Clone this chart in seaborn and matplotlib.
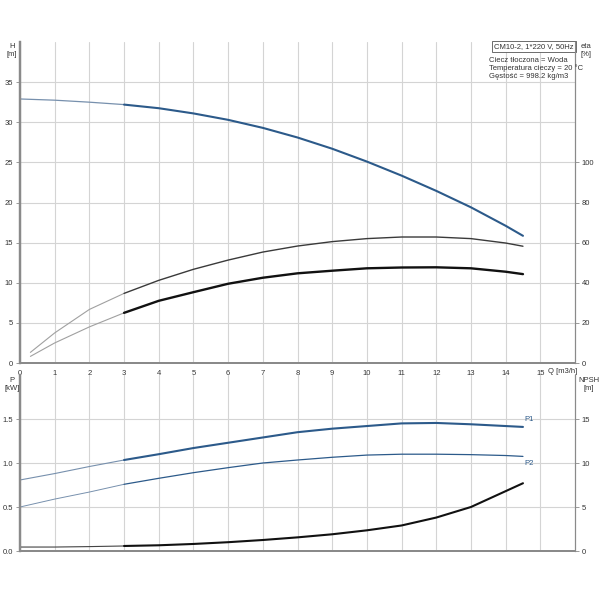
import numpy as np
import pandas as pd
import matplotlib
matplotlib.use("Agg")
import matplotlib.pyplot as plt
import seaborn as sns

# ---- data ----
q_h = [0, 1, 2, 3, 4, 5, 6, 7, 8, 9, 10, 11, 12, 13, 14, 14.5]
head = [32.9, 32.75, 32.5, 32.2, 31.75, 31.1, 30.3, 29.3, 28.1, 26.7, 25.1, 23.35, 21.45, 19.4, 17.1, 15.85]

q_eta = [0.3, 1, 2, 3, 4, 5, 6, 7, 8, 9, 10, 11, 12, 13, 14, 14.5]
eta_upper = [5.3, 15, 26.7, 34.7, 41.2, 46.7, 51.3, 55.3, 58.3, 60.5, 62.0, 62.8, 62.8, 62.0, 59.8, 58.2]
eta_lower = [3.3, 10, 18, 25, 31, 35.3, 39.5, 42.5, 44.7, 46.0, 47.2, 47.6, 47.7, 47.2, 45.5, 44.3]

q_p = [0, 1, 2, 3, 4, 5, 6, 7, 8, 9, 10, 11, 12, 13, 14, 14.5]
p1 = [0.807, 0.88, 0.96, 1.034, 1.10, 1.17, 1.23, 1.29, 1.35, 1.39, 1.42, 1.45, 1.455, 1.44, 1.42, 1.41]
p2 = [0.50, 0.59, 0.67, 0.758, 0.826, 0.89, 0.947, 1.0, 1.034, 1.065, 1.09, 1.10, 1.10, 1.095, 1.085, 1.075]
npsh = [0.45, 0.45, 0.5, 0.57, 0.65, 0.8, 1.0, 1.25, 1.55, 1.9, 2.35, 2.9, 3.8, 5.0, 6.8, 7.7]

q_ticks = list(range(0, 16))
h_ticks = [0, 5, 10, 15, 20, 25, 30, 35]
eta_ticks = [0, 20, 40, 60, 80, 100]
p_ticks = [0.0, 0.5, 1.0, 1.5]
p_tick_labels = ["0.0", "0.5", "1.0", "1.5"]
npsh_ticks = [0, 5, 10, 15]

title_box = "CM10-2, 1*220 V, 50Hz"
info_lines = ["Ciecz tłoczona = Woda", "Temperatura cieczy = 20 °C", "Gęstość = 998.2 kg/m3"]

# ---- style ----
sns.set_style("white")
plt.rcParams['font.family'] = ['Liberation Sans', 'DejaVu Sans']
FS = 5.5
TXT = "#333333"
GRID = "#d4d4d4"
SPINE = "#8a8a8a"
BLUE = "#2c5a8a"
BLUE_THIN = "#7790ad"

fig = plt.figure(figsize=(6, 6), dpi=100)
ax_top = fig.add_axes([20/600, 1-363/600, 555/600, 321/600])
ax_bot = fig.add_axes([20/600, 1-551/600, 555/600, 176/600])
ax_eta = ax_top.twinx()
ax_npsh = ax_bot.twinx()


def split_plot(ax, xs, ys, color, lw, thin_color, thin_lw, cut=3):
    df = pd.DataFrame({"Q": xs, "v": ys})
    thin = df[df.Q <= cut]
    thick = df[df.Q >= cut]
    sns.lineplot(data=thin, x="Q", y="v", ax=ax, color=thin_color, lw=thin_lw, sort=False, legend=False)
    sns.lineplot(data=thick, x="Q", y="v", ax=ax, color=color, lw=lw, sort=False, legend=False)


split_plot(ax_top, q_h, head, BLUE, 1.5, BLUE_THIN, 0.9)
split_plot(ax_eta, q_eta, eta_upper, "#3a3a3a", 1.0, "#a0a0a0", 0.8)
split_plot(ax_eta, q_eta, eta_lower, "#111111", 1.7, "#a0a0a0", 0.8)
split_plot(ax_bot, q_p, p1, BLUE, 1.5, BLUE_THIN, 0.8)
split_plot(ax_bot, q_p, p2, BLUE, 0.9, BLUE_THIN, 0.7)
split_plot(ax_npsh, q_p, npsh, "#111111", 1.5, "#444444", 0.8)

# limits & ticks
for ax in (ax_top, ax_bot):
    ax.set_xlim(0, 16)
    ax.set_xticks(q_ticks)
    ax.grid(True, color=GRID, lw=0.8)
    ax.set_axisbelow(True)
ax_top.set_ylim(0, 40)
ax_top.set_yticks(h_ticks)
ax_top.set_xticklabels([str(t) for t in q_ticks])
ax_eta.set_ylim(0, 160)
ax_eta.set_yticks(eta_ticks)
ax_bot.set_ylim(0, 2.0)
ax_bot.set_yticks(p_ticks)
ax_bot.set_yticklabels(p_tick_labels)
ax_bot.set_xticklabels([])
ax_npsh.set_ylim(0, 20)
ax_npsh.set_yticks(npsh_ticks)

for ax in (ax_top, ax_bot, ax_eta, ax_npsh):
    ax.set_xlabel("")
    ax.set_ylabel("")
    ax.tick_params(labelsize=FS, colors=TXT, length=3, width=0.6, direction="out", pad=2)
    ax.tick_params(axis="both", color=SPINE)
    ax.spines["top"].set_visible(False)
    ax.spines["left"].set_color(SPINE)
    ax.spines["left"].set_linewidth(1.6)
    ax.spines["bottom"].set_color(SPINE)
    ax.spines["bottom"].set_linewidth(1.4)
    ax.spines["right"].set_color(SPINE)
    ax.spines["right"].set_linewidth(0.8)
ax_bot.tick_params(axis="x", length=0)
for ax in (ax_eta, ax_npsh):
    ax.grid(False)

# axis labels
fig.text(12/600, 1-46/600, "H", fontsize=FS, color=TXT, ha="center", va="center")
fig.text(12/600, 1-54/600, "[m]", fontsize=FS, color=TXT, ha="center", va="center")
fig.text(586/600, 1-46/600, "eta", fontsize=FS, color=TXT, ha="center", va="center")
fig.text(586/600, 1-54/600, "[%]", fontsize=FS, color=TXT, ha="center", va="center")
fig.text(12/600, 1-381/600, "P", fontsize=FS, color=TXT, ha="center", va="center")
fig.text(12/600, 1-389/600, "[kW]", fontsize=FS, color=TXT, ha="center", va="center")
fig.text(589/600, 1-381/600, "NPSH", fontsize=FS, color=TXT, ha="center", va="center")
fig.text(589/600, 1-389/600, "[m]", fontsize=FS, color=TXT, ha="center", va="center")
fig.text(548/600, 1-371.5/600, "Q [m3/h]", fontsize=FS, color=TXT, ha="left", va="center")

# info box
ax_top.text(0.997, 0.997, title_box, transform=ax_top.transAxes, fontsize=FS, color=TXT,
            ha="right", va="top",
            bbox=dict(boxstyle="square,pad=0.3", fc="white", ec="#555555", lw=0.6), zorder=10)
for i, line in enumerate(info_lines):
    fig.text(489/600, 1-(60 + 8*i)/600, line, fontsize=FS, color=TXT, ha="left", va="center")

# curve labels
ax_bot.text(14.55, 1.455, "P1", fontsize=FS, color=BLUE, ha="left", va="bottom")
ax_bot.text(14.55, 1.03, "P2", fontsize=FS, color=BLUE, ha="left", va="top")

fig.savefig("out.png", dpi=100, facecolor="white")
